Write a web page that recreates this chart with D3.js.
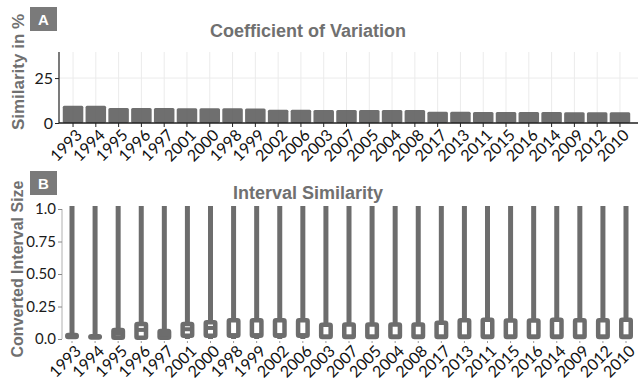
<!DOCTYPE html>
<html>
<head>
<meta charset="utf-8">
<script src="https://cdn.jsdelivr.net/npm/d3@7"></script>
<style>
  body { margin: 0; background: #fff; }
  svg { display: block; }
  .title { font-family: "Liberation Sans", Arial, sans-serif; font-weight: bold; fill: #707070; }
  .tick text { font-family: Lato, sans-serif; fill: #1a1a1a; }
</style>
</head>
<body>
<svg id="svg" width="638" height="381"></svg>
<script>
// categories (sorted by coefficient of variation)
const years = ["1993", "1994", "1995", "1996", "1997", "2001", "2000", "1998", "1999",
  "2002", "2006", "2003", "2007", "2005", "2004", "2008", "2017", "2013", "2011",
  "2015", "2016", "2014", "2009", "2012", "2010"];

// panel A: coefficient of variation in %
const cvValues = [9.6, 9.6, 8.3, 8.3, 8.3, 8.2, 8.2, 8.2, 8.1, 7.4, 7.4, 7.3, 7.3,
  7.3, 7.3, 7.2, 6.2, 6.2, 6.1, 6.1, 6.1, 6.1, 6.0, 6.0, 6.0];
const cvTicks = [0, 25];

// panel B: converted interval size, box stats
const boxMin = years.map(() => 0);
const boxMax = years.map(() => 1);
const boxQ1 = [0.015, 0.012, 0.01, 0.01, 0.01, 0.025, 0.025, 0.025, 0.025, 0.025, 0.025,
  0.015, 0.015, 0.015, 0.015, 0.015, 0.015, 0.015, 0.015, 0.015, 0.015, 0.015, 0.015, 0.015, 0.015];
const boxMedian = [0.02, 0.015, 0.04, 0.07, 0.035, 0.075, 0.085, 0.03, 0.03, 0.03, 0.03,
  0.02, 0.02, 0.02, 0.02, 0.02, 0.02, 0.02, 0.02, 0.02, 0.02, 0.02, 0.02, 0.02, 0.02];
const boxQ3 = [0.03, 0.022, 0.07, 0.116, 0.062, 0.116, 0.129, 0.144, 0.144, 0.144, 0.144,
  0.11, 0.112, 0.112, 0.112, 0.112, 0.125, 0.145, 0.148, 0.142, 0.142, 0.148, 0.145, 0.145, 0.148];
const intervalTicks = [0, 0.25, 0.5, 0.75, 1];
const intervalTickLabels = ["0.0", "0.25", "0.50", "0.75", "1.0"];

const gray = "#6d6d6d";
const svg = d3.select("#svg");

// ---------- panel label boxes ----------
function panelLetter(letter, x, y) {
  svg.append("rect").attr("x", x).attr("y", y).attr("width", 27).attr("height", 24)
    .attr("fill", "#7a7a7a");
  svg.append("text").attr("x", x + 13.5).attr("y", y + 17.5)
    .attr("text-anchor", "middle")
    .style("font-family", "Liberation Sans, Arial, sans-serif")
    .style("font-weight", "bold").style("font-size", "15px")
    .attr("fill", "#fff").text(letter);
}

function rotatedLabels(g, x, y0, fontSize) {
  g.selectAll(".xlab")
    .data(years)
    .enter()
    .append("text")
    .attr("class", "xlab")
    .attr("transform", (d) => "translate(" + (x(d) + 2) + "," + y0 + ") rotate(-45)")
    .attr("text-anchor", "end")
    .attr("dy", "0.72em")
    .style("font-family", "Lato, sans-serif")
    .style("font-size", fontSize + "px")
    .attr("fill", "#111")
    .text((d) => d);
}

// ---------- panel A ----------
panelLetter("A", 30, 7);
svg.append("text").attr("class", "title").attr("x", 308).attr("y", 37)
  .attr("text-anchor", "middle").style("font-size", "18px").text("Coefficient of Variation");

const aTop = 52, aBottom = 123, aLeft = 59, aRight = 638;
const xA = d3.scaleBand().domain(years).range([60.5, 632.5]).padding(0.1);
const yA = d3.scaleLinear().domain([0, 39.5]).range([aBottom, aTop]);
const xAcenter = (d) => xA(d) + xA.bandwidth() / 2;

const gA = svg.append("g");
// grid
gA.selectAll(".vgrid").data(years).enter().append("line")
  .attr("x1", xAcenter).attr("x2", xAcenter)
  .attr("y1", aTop).attr("y2", aBottom)
  .attr("stroke", "#ebebeb").attr("stroke-width", 1);
gA.selectAll(".hgrid").data(cvTicks).enter().append("line")
  .attr("x1", aLeft).attr("x2", aRight)
  .attr("y1", (d) => yA(d)).attr("y2", (d) => yA(d))
  .attr("stroke", "#ebebeb").attr("stroke-width", 1);

// bars
gA.selectAll(".bar").data(years).enter().append("rect")
  .attr("x", (d) => xA(d))
  .attr("width", xA.bandwidth())
  .attr("y", (d, i) => yA(cvValues[i]))
  .attr("height", (d, i) => yA(0) - yA(cvValues[i]))
  .attr("rx", 1.5)
  .attr("fill", "#5f5f5f").attr("fill-opacity", 0.9);

// axes
const axA = d3.axisLeft(yA).tickValues(cvTicks).tickSize(4).tickPadding(2);
gA.append("g").attr("transform", "translate(" + aLeft + ",0)").call(axA)
  .call((g) => g.select(".domain").attr("d", "M0," + aTop + "V" + aBottom).attr("stroke", "#222").attr("stroke-width", 1.2))
  .call((g) => g.selectAll(".tick line").attr("stroke", "#222"))
  .call((g) => g.selectAll(".tick text").style("font-size", "16px"));
gA.append("line").attr("x1", aLeft).attr("x2", aRight).attr("y1", aBottom).attr("y2", aBottom)
  .attr("stroke", "#222").attr("stroke-width", 1.5);
gA.selectAll(".xtick").data(years).enter().append("line")
  .attr("x1", xAcenter).attr("x2", xAcenter)
  .attr("y1", aBottom).attr("y2", aBottom + 4)
  .attr("stroke", "#222");
rotatedLabels(gA, xAcenter, aBottom + 5, 16);

svg.append("text").attr("class", "title")
  .attr("transform", "translate(24,72) rotate(-90)")
  .attr("text-anchor", "middle").style("font-size", "17px").attr("fill", "#808080")
  .text("Similarity in %");

// ---------- panel B ----------
panelLetter("B", 30, 171);
svg.append("text").attr("class", "title").attr("x", 308).attr("y", 199)
  .attr("text-anchor", "middle").style("font-size", "18px").text("Interval Similarity");

const bTop = 209, bBottom = 339, bLeft = 62;
const xB = d3.scalePoint().domain(years).range([72, 626]);
const yB = d3.scaleLinear().domain([0, 1]).range([bBottom, bTop]);

const gB = svg.append("g");
const axB = d3.axisLeft(yB).tickValues(intervalTicks)
  .tickFormat((d, i) => intervalTickLabels[i]).tickSize(4).tickPadding(2);
gB.append("g").attr("transform", "translate(" + bLeft + ",0)").call(axB)
  .call((g) => g.select(".domain").attr("d", "M0," + bTop + "V" + bBottom).attr("stroke", "#b0b0b0"))
  .call((g) => g.selectAll(".tick line").attr("stroke", "#888"))
  .call((g) => g.selectAll(".tick text").style("font-size", "15px").attr("fill", "#333"));

const boxW = 9.5;
const boxes = gB.selectAll(".box").data(years).enter().append("g").attr("class", "box");
boxes.append("line")
  .attr("x1", (d) => xB(d)).attr("x2", (d) => xB(d))
  .attr("y1", (d, i) => yB(boxMax[i]) - 3).attr("y2", (d, i) => yB(boxMin[i]))
  .attr("stroke", gray).attr("stroke-width", 5);
boxes.append("rect")
  .attr("x", (d) => xB(d) - boxW / 2).attr("width", boxW)
  .attr("y", (d, i) => yB(boxQ3[i]))
  .attr("height", (d, i) => yB(boxQ1[i]) - yB(boxQ3[i]))
  .attr("rx", 1)
  .attr("fill", "#fff").attr("stroke", gray).attr("stroke-width", 4.5);
boxes.append("line")
  .attr("x1", (d) => xB(d) - boxW / 2).attr("x2", (d) => xB(d) + boxW / 2)
  .attr("y1", (d, i) => yB(boxMedian[i])).attr("y2", (d, i) => yB(boxMedian[i]))
  .attr("stroke", gray).attr("stroke-width", 4);
gB.selectAll(".xtick").data(years).enter().append("line")
  .attr("x1", (d) => xB(d)).attr("x2", (d) => xB(d))
  .attr("y1", bBottom + 2).attr("y2", bBottom + 4)
  .attr("stroke", "#999");
rotatedLabels(gB, xB, bBottom + 5, 16);

svg.append("text").attr("class", "title")
  .attr("transform", "translate(23,269) rotate(-90)")
  .attr("text-anchor", "middle").style("font-size", "16px").attr("fill", "#808080")
  .text("Converted Interval Size");
</script>
</body>
</html>
